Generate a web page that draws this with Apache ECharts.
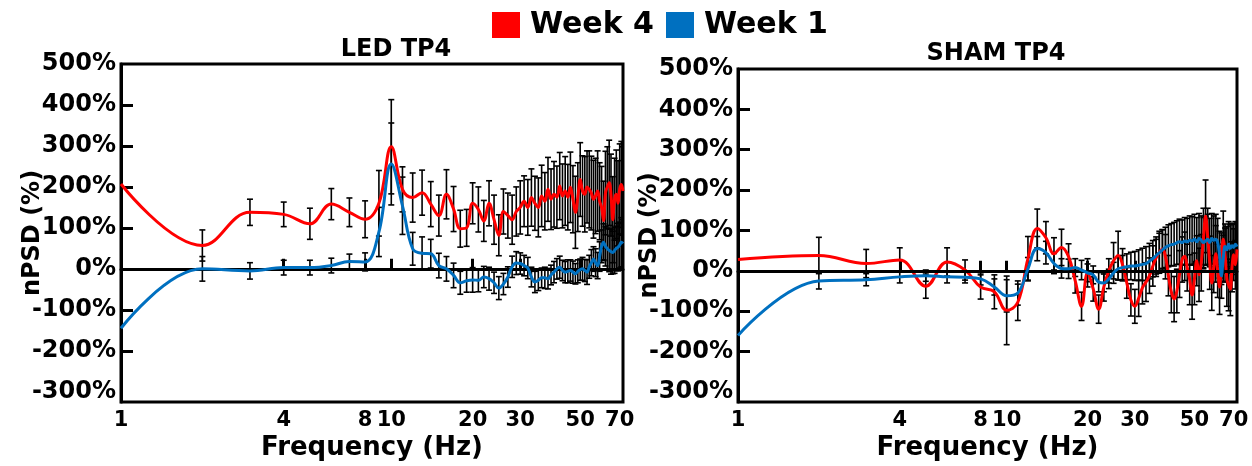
<!DOCTYPE html>
<html>
<head>
<meta charset="utf-8">
<script src="https://cdn.jsdelivr.net/npm/echarts@6/dist/echarts.min.js"></script>
<style>
  html, body { margin: 0; padding: 0; background: #fff; }
  #chart { width: 1252px; height: 466px; }
</style>
</head>
<body>
<div id="chart"></div>
<script>
// frequency bins (Hz)
var freqs = [1, 2, 3, 4, 5, 6, 7, 8, 9, 10, 11, 12, 13, 14, 15, 16, 17, 18, 19, 20,
  21, 22, 23, 24, 25, 26, 27, 28, 29, 30, 31, 32, 33, 34, 35, 36, 37, 38, 39, 40,
  41, 42, 43, 44, 45, 46, 47, 48, 49, 50, 51, 52, 53, 54, 55, 56, 57, 58, 59, 60,
  61, 62, 63, 64, 65, 66, 67, 68, 69, 70, 71, 72];

// LED TP4
var ledWeek4 = [207, 57, 138, 133, 110, 158, 138, 121, 160, 298,
  194, 174, 186, 158, 130, 182, 146, 98, 100, 160,
  145, 117, 160, 120, 82, 140, 130, 120, 140, 150,
  165, 150, 174, 160, 150, 178, 165, 194, 170, 182,
  175, 202, 178, 190, 175, 199, 170, 138, 175, 218,
  190, 182, 200, 194, 185, 170, 178, 190, 165, 150,
  118, 185, 200, 210, 180, 120, 170, 182, 160, 195,
  206, 190];
var ledWeek1 = [-145, 0, -5, 3, 3, 8, 18, 17, 90, 256,
  154, 49, 38, 37, 8, 0, -16, -34, -29, -27,
  -28, -20, -24, -34, -47, -37, -20, 5, 14, 13,
  8, 2, -20, -32, -28, -22, -22, -24, -15, -8,
  0, 4, -4, -8, -6, -4, -8, -12, -6, -2,
  0, -4, -8, 5, 15, 24, 15, 8, 30, 55,
  65, 55, 49, 45, 42, 40, 45, 50, 53, 58,
  65, 62];
var ledErr4 = [0, 38, 32, 30, 38, 38, 35, 45, 80, 115,
  55, 60, 55, 55, 50, 60, 55, 45, 45, 50,
  55, 50, 55, 60, 50, 55, 55, 60, 60, 65,
  62, 68, 70, 66, 72, 75, 70, 78, 74, 80,
  76, 82, 78, 84, 80, 86, 82, 88, 84, 90,
  86, 92, 88, 94, 90, 95, 92, 98, 94, 100,
  96, 102, 98, 104, 100, 105, 100, 108, 104, 110,
  105, 108];
var ledErr1 = [0, 30, 20, 18, 18, 18, 18, 22, 60, 100,
  70, 40, 40, 35, 30, 30, 30, 28, 28, 30,
  28, 26, 28, 26, 28, 26, 25, 26, 28, 26,
  25, 26, 24, 26, 25, 24, 26, 25, 24, 26,
  25, 27, 25, 26, 28, 26, 27, 25, 28, 26,
  28, 27, 30, 28, 32, 30, 34, 32, 36, 40,
  45, 48, 50, 52, 55, 52, 56, 54, 58, 56,
  60, 58];

// SHAM TP4
var shamWeek4 = [28, 38, 18, 27, -38, 22, 2, -40, -52, -98,
  -78, 30, 105, 82, 42, 58, 35, -25, -88, -5,
  -45, -95, -40, 0, 25, 38, 15, -30, -72, -88,
  -68, -42, -28, -12, 12, 32, 46, 54, 35, -12,
  -52, -70, -50, -8, 28, 36, 8, -22, -60, -20,
  25, -10, 20, 80, 135, 85, 20, -30, 10, 42,
  0, -40, 30, 78, 40, -20, -35, -45, 10, 40,
  15, 53];
var shamWeek1 = [-160, -25, -22, -15, -12, -15, -16, -20, -40, -62,
  -55, 5, 55, 45, 18, 6, 5, 8, 2, -5,
  -10, -28, -30, -20, -5, 5, 8, 10, 12, 12,
  14, 16, 18, 24, 30, 38, 45, 52, 58, 62,
  65, 66, 70, 72, 70, 74, 72, 76, 74, 78,
  72, 80, 76, 70, 74, 78, 70, 80, 76, 78,
  70, 40, -12, 30, 60, 52, 66, 56, 62, 58,
  66, 60];
var shamErr4 = [0, 45, 35, 30, 30, 35, 25, 30, 42, 85,
  45, 55, 48, 40, 40, 45, 32, 30, 35, 35,
  30, 35, 35, 30, 45, 60, 40, 38, 40, 42,
  45, 40, 48, 44, 50, 46, 52, 48, 55, 50,
  52, 56, 54, 58, 56, 60, 58, 62, 60, 64,
  62, 66, 70, 75, 90, 70, 66, 68, 64, 70,
  66, 68, 64, 70, 66, 68, 64, 66, 62, 64,
  60, 62];
var shamErr1 = [0, 20, 15, 15, 14, 15, 14, 15, 20, 40,
  30, 28, 30, 28, 25, 24, 24, 22, 24, 22,
  22, 24, 22, 24, 26, 28, 30, 32, 34, 36,
  38, 40, 42, 44, 45, 46, 48, 50, 50, 52,
  52, 54, 54, 56, 56, 58, 58, 60, 60, 62,
  60, 62, 60, 62, 60, 62, 60, 62, 60, 62,
  60, 58, 56, 58, 56, 58, 56, 58, 56, 58,
  56, 58];

var xTicks = [1, 4, 8, 10, 20, 30, 50, 70];
var yTicks = [-300, -200, -100, 0, 100, 200, 300, 400, 500];
var yInnerTicks = [-200, -100, 0, 100, 200, 300, 400];

var FONT = 'DejaVu Sans';
var RED = '#ff0000';
var BLUE = '#0070c0';

var chart = echarts.init(document.getElementById('chart'));

function pairs(vals) {
  return freqs.map(function (f, i) { return [f, vals[i]]; });
}

// black mean +/- error bars, drawn with a custom series
function errorSeries(idx, vals, errs) {
  var data = [];
  freqs.forEach(function (f, i) {
    if (errs[i] > 0) data.push([f, vals[i] - errs[i], vals[i] + errs[i]]);
  });
  return {
    type: 'custom',
    xAxisIndex: idx,
    yAxisIndex: idx,
    data: data,
    silent: true,
    clip: true,
    z: 2,
    encode: { x: 0, y: [1, 2] },
    renderItem: function (params, api) {
      var lo = api.coord([api.value(0), api.value(1)]);
      var hi = api.coord([api.value(0), api.value(2)]);
      var w = 3;
      var st = { stroke: '#000', lineWidth: 1.6 };
      return {
        type: 'group',
        children: [
          { type: 'line', shape: { x1: lo[0], y1: lo[1], x2: hi[0], y2: hi[1] }, style: st },
          { type: 'line', shape: { x1: lo[0] - w, y1: lo[1], x2: lo[0] + w, y2: lo[1] }, style: st },
          { type: 'line', shape: { x1: hi[0] - w, y1: hi[1], x2: hi[0] + w, y2: hi[1] }, style: st }
        ]
      };
    }
  };
}

function lineSeries(idx, name, vals, color, z, zeroLine) {
  var s = {
    name: name,
    type: 'line',
    xAxisIndex: idx,
    yAxisIndex: idx,
    data: pairs(vals),
    smooth: 0.4,
    showSymbol: false,
    silent: true,
    z: z,
    color: color,
    lineStyle: { color: color, width: 3 }
  };
  if (zeroLine) {
    s.markLine = {
      silent: true,
      symbol: 'none',
      label: { show: false },
      lineStyle: { color: '#000', width: 3, type: 'solid' },
      data: [{ yAxis: 0 }]
    };
  }
  return s;
}

function xAxis(idx) {
  return {
    type: 'log',
    gridIndex: idx,
    min: 1,
    max: 72,
    logBase: 10,
    name: 'Frequency (Hz)',
    nameLocation: 'middle',
    nameGap: 33,
    nameMoveOverlap: false,
    nameTextStyle: { fontFamily: FONT, fontWeight: 'bold', fontSize: 26, color: '#000' },
    axisLine: { show: true, lineStyle: { color: '#000', width: 3 } },
    axisTick: { show: true, inside: true, length: 10, lineStyle: { color: '#000', width: 3 }, customValues: xTicks.slice(1, 7) },
    axisLabel: {
      customValues: xTicks,
      margin: 8,
      fontFamily: FONT, fontWeight: 'bold', fontSize: 21, color: '#000',
      formatter: function (v) { return String(Math.round(v)); }
    },
    splitLine: { show: false },
    minorTick: { show: false }
  };
}

function yAxis(idx, gap) {
  return {
    type: 'value',
    gridIndex: idx,
    min: -325,
    max: 500,
    name: 'nPSD (%)',
    nameLocation: 'middle',
    nameRotate: 90,
    nameGap: gap,
    nameMoveOverlap: false,
    nameTextStyle: { fontFamily: FONT, fontWeight: 'bold', fontSize: 24, color: '#000' },
    axisLine: { show: true, lineStyle: { color: '#000', width: 3 } },
    axisTick: { show: true, inside: true, length: 12, lineStyle: { color: '#000', width: 3 }, customValues: yInnerTicks },
    axisLabel: {
      customValues: yTicks,
      margin: 5,
      fontFamily: FONT, fontWeight: 'bold', fontSize: 24, color: '#000',
      formatter: function (v) { return v + '%'; }
    },
    splitLine: { show: false }
  };
}

var titleStyle = { fontFamily: FONT, fontWeight: 'bold', fontSize: 24, color: '#000' };

var option = {
  animation: false,
  backgroundColor: '#fff',
  title: [
    { text: 'LED TP4', left: 391, top: 33, textAlign: 'center', textStyle: titleStyle },
    { text: 'SHAM TP4', left: 991, top: 37, textAlign: 'center', textStyle: titleStyle }
  ],
  legend: {
    data: ['Week 4', 'Week 1'],
    left: 487,
    top: 5,
    icon: 'rect',
    itemWidth: 28,
    itemHeight: 26,
    itemGap: 12,
    textStyle: { fontFamily: FONT, fontWeight: 'bold', fontSize: 30, color: '#000', padding: [0, 0, 0, 5] }
  },
  grid: [
    { left: 121, top: 64, width: 502, height: 339, show: true, borderColor: '#000', borderWidth: 3, backgroundColor: 'transparent' },
    { left: 738, top: 69, width: 499, height: 334, show: true, borderColor: '#000', borderWidth: 3, backgroundColor: 'transparent' }
  ],
  xAxis: [xAxis(0), xAxis(1)],
  yAxis: [yAxis(0, 76), yAxis(1, 76)],
  series: [
    errorSeries(0, ledWeek4, ledErr4),
    errorSeries(0, ledWeek1, ledErr1),
    lineSeries(0, 'Week 4', ledWeek4, RED, 4, true),
    lineSeries(0, 'Week 1', ledWeek1, BLUE, 5, false),
    errorSeries(1, shamWeek4, shamErr4),
    errorSeries(1, shamWeek1, shamErr1),
    lineSeries(1, 'Week 4', shamWeek4, RED, 4, true),
    lineSeries(1, 'Week 1', shamWeek1, BLUE, 5, false)
  ]
};

chart.setOption(option);
</script>
</body>
</html>
